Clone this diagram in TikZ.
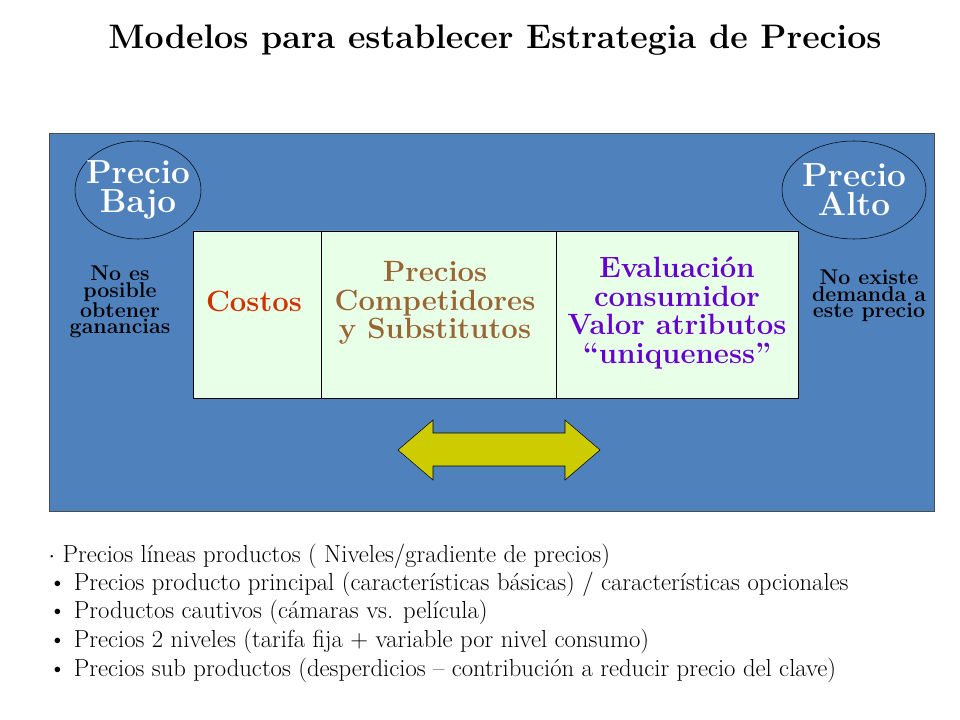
\documentclass[tikz,border=0pt]{standalone}
\usetikzlibrary{shapes.geometric}
\definecolor{bluebg}{HTML}{4F81BD}
\definecolor{boxg}{HTML}{E8FFE8}
\definecolor{arrowc}{HTML}{CCCC00}
\definecolor{cost}{HTML}{CC3300}
\definecolor{comp}{HTML}{996633}
\definecolor{eval}{HTML}{6600CC}
\begin{document}
\begin{tikzpicture}[x=0.75pt,y=-0.75pt,
  lbl/.style={font=\bfseries\fontsize{25}{22}\selectfont,align=center,text=white},
  small/.style={font=\bfseries\fontsize{16}{12.5}\selectfont,align=center},
  boxtxt/.style={font=\bfseries\fontsize{22}{21.5}\selectfont,align=center},
  bul/.style={font=\fontsize{18.5}{20}\selectfont,anchor=west}]
\useasboundingbox[fill=white] (0,0) rectangle (960,720);
\node[font=\bfseries\fontsize{25.5}{28}\selectfont] (title) at (495,40) {Modelos para establecer Estrategia de Precios};
\draw[fill=bluebg,draw=black!70] (49,133) rectangle (934,511);
\node[draw,ellipse,minimum width=94.5pt,minimum height=73.5pt,inner sep=0] (el) at (138,190) {};
\node[lbl] (pb) at (el) {Precio\\Bajo};
\node[draw,ellipse,minimum width=108pt,minimum height=73.5pt,inner sep=0] (er) at (854,190) {};
\node[lbl] (pa) at (er) {Precio\\Alto};
\node[small] (ne) at (120,302) {No es\\posible\\obtener\\ganancias};
\node[small] (nx) at (869,296) {No existe\\demanda a\\este precio};
\draw[fill=boxg] (193,231) rectangle (321,398) (321,231) rectangle (556,398) (556,231) rectangle (798,398);
\node[boxtxt,text=cost] (c) at (254,301) {Costos};
\node[boxtxt,text=comp] (p) at (435,303) {Precios\\Competidores\\y Substitutos};
\node[boxtxt,text=eval] (e) at (677,313) {Evaluación\\consumidor\\Valor atributos\\``uniqueness''};
\draw[fill=arrowc] (398,450) -- (433,420) -- (433,433) -- (565,433) -- (565,420) -- (600,450)
  -- (565,480) -- (565,466) -- (433,466) -- (433,480) -- cycle;
\node[bul] (b1) at (44,556) {$\cdot$ Precios líneas productos ( Niveles/gradiente de precios)};
\node[bul] (b2) at (44,584) {\textbullet\ Precios producto principal (características básicas) / características opcionales};
\node[bul] (b3) at (44,612) {\textbullet\ Productos cautivos (cámaras vs. película)};
\node[bul] (b4) at (44,641) {\textbullet\ Precios 2 niveles (tarifa fija + variable por nivel consumo)};
\node[bul] (b5) at (44,670) {\textbullet\ Precios sub productos (desperdicios -- contribución a reducir precio del clave)};
\end{tikzpicture}
\end{document}
